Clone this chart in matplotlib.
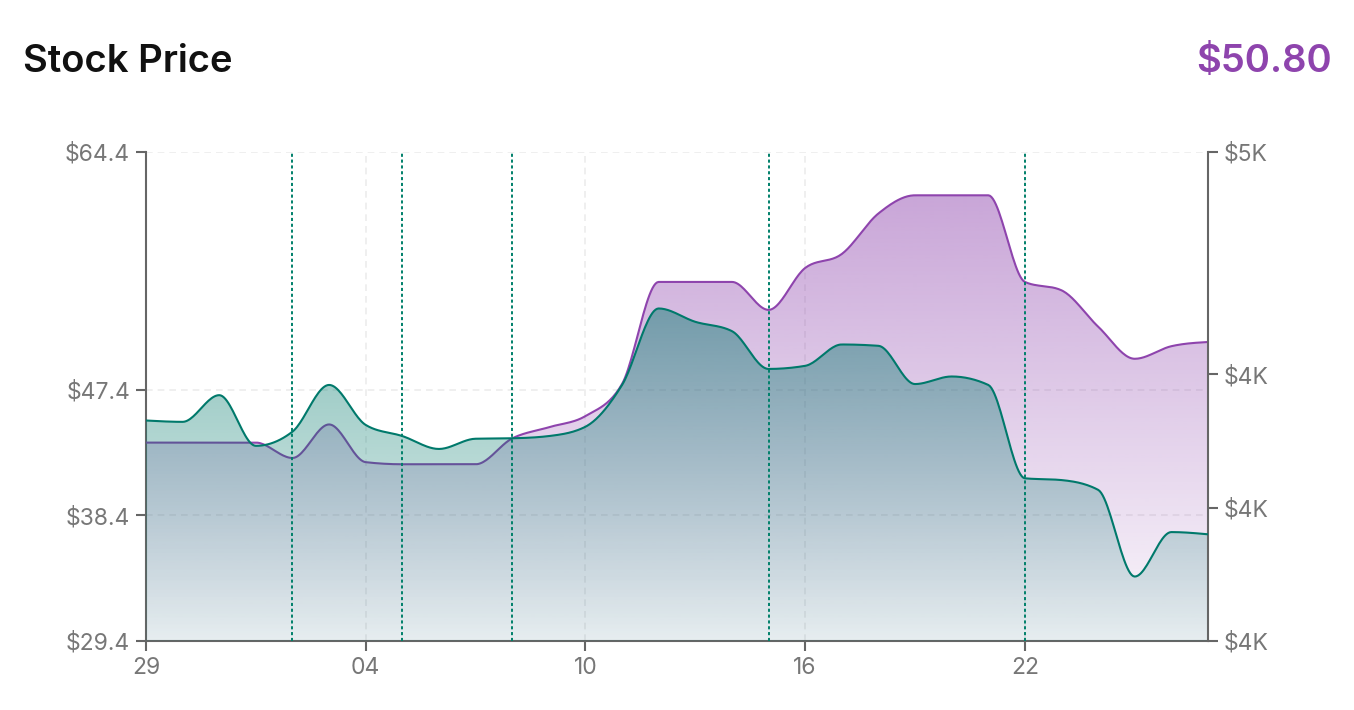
import numpy as np
import pandas as pd
import matplotlib
matplotlib.use("Agg")
import matplotlib.pyplot as plt
import matplotlib.dates as mdates
from matplotlib.ticker import FixedLocator, FuncFormatter
from matplotlib.colors import to_rgb

plt.rcParams["font.family"] = ["Inter", "DejaVu Sans"]

# -------------------------------------------------
# Data (daily values)
# -------------------------------------------------
dates = pd.date_range("2023-12-29", periods=30, freq="D")

price = [43.6, 43.6, 43.6, 43.6, 42.5, 44.9, 42.2, 42.05, 42.05, 42.05,
         43.9, 44.7, 45.5, 47.8, 55.1, 55.1, 55.1, 53.1, 56.1, 57.1,
         60.0, 61.3, 61.3, 61.3, 55.1, 54.5, 51.9, 49.6, 50.5, 50.8]

value = [4096, 4093, 4153, 4039, 4071, 4176, 4086, 4061, 4032, 4055,
         4056, 4061, 4082, 4176, 4348, 4318, 4297, 4212, 4219, 4267,
         4264, 4178, 4195, 4176, 3966, 3962, 3940, 3745, 3845, 3840]

event_dates = pd.to_datetime(["2024-01-02", "2024-01-05", "2024-01-08",
                              "2024-01-15", "2024-01-22"])

price_ticks = [29.4, 38.4, 47.4, 64.4]
value_ticks = [3600, 3900, 4200, 4700]
x_tick_dates = dates[::6]

PURPLE = "#8e44ad"
GREEN = "#00796b"
AXIS_GRAY = "#666666"
LABEL_GRAY = "#777777"


# -------------------------------------------------
# Monotone-x curve (same smoothing a d3 curveMonotoneX gives)
# -------------------------------------------------
def monotone_curve(x, y, steps=24):
    x = np.asarray(x, float)
    y = np.asarray(y, float)
    h = np.diff(x)
    s = np.diff(y) / h
    t = np.zeros_like(y)
    for i in range(1, len(y) - 1):
        p = (s[i - 1] * h[i] + s[i] * h[i - 1]) / (h[i - 1] + h[i])
        t[i] = (np.sign(s[i - 1]) + np.sign(s[i])) * min(abs(s[i - 1]), abs(s[i]), 0.5 * abs(p))
    t[0] = (3 * s[0] - t[1]) / 2 if len(y) > 2 else s[0]
    t[-1] = (3 * s[-1] - t[-2]) / 2 if len(y) > 2 else s[-1]
    xs, ys = [], []
    for i in range(len(h)):
        u = np.linspace(0, 1, steps, endpoint=False)
        h00 = 2 * u**3 - 3 * u**2 + 1
        h10 = u**3 - 2 * u**2 + u
        h01 = -2 * u**3 + 3 * u**2
        h11 = u**3 - u**2
        xs.append(x[i] + u * h[i])
        ys.append(h00 * y[i] + h10 * h[i] * t[i] + h01 * y[i + 1] + h11 * h[i] * t[i + 1])
    xs.append([x[-1]])
    ys.append([y[-1]])
    return np.concatenate(xs), np.concatenate(ys)


def gradient_fill(ax, xs, ys, base, top, color, a_bottom, a_top, x0, x1):
    poly = ax.fill_between(xs, ys, base, color="none", linewidth=0)
    rgb = to_rgb(color)
    n = 256
    img = np.zeros((n, 1, 4))
    img[:, 0, :3] = rgb
    img[:, 0, 3] = np.linspace(a_bottom, a_top, n)
    im = ax.imshow(img, extent=[x0, x1, base, top], origin="lower",
                   aspect="auto", interpolation="bilinear", zorder=1)
    im.set_clip_path(poly.get_paths()[0], transform=ax.transData)


# -------------------------------------------------
# Figure
# -------------------------------------------------
fig = plt.figure(figsize=(13.54, 7.10), dpi=100)
ax = fig.add_axes([146 / 1354, 69 / 710, 1062 / 1354, 489 / 710])
ax2 = ax.twinx()

xnum = mdates.date2num(dates)
x0, x1 = xnum[0], xnum[-1]

# price (left axis)
px, py = monotone_curve(xnum, price)
gradient_fill(ax, px, py, price_ticks[0], price_ticks[-1], PURPLE, 0.04, 0.52, x0, x1)
ax.plot(px, py, color=PURPLE, linewidth=1.5, zorder=3)

# value (right axis)
vx, vy = monotone_curve(xnum, value)
gradient_fill(ax2, vx, vy, value_ticks[0], value_ticks[-1], GREEN, 0.08, 0.64, x0, x1)
ax2.plot(vx, vy, color=GREEN, linewidth=1.5, zorder=3)

# event markers
for d in event_dates:
    ax2.axvline(mdates.date2num(d), color="#00806a", linewidth=1.4,
                linestyle=(0, (1.6, 1.4)), zorder=4)

# -------------------------------------------------
# Axes styling
# -------------------------------------------------
ax.set_xlim(x0, x1)
ax.set_ylim(price_ticks[0], price_ticks[-1])
ax2.set_ylim(value_ticks[0], value_ticks[-1])

ax.yaxis.set_major_locator(FixedLocator(price_ticks))
ax.yaxis.set_major_formatter(FuncFormatter(lambda v, _: f"${v:.1f}"))
ax2.yaxis.set_major_locator(FixedLocator(value_ticks))
ax2.yaxis.set_major_formatter(FuncFormatter(lambda v, _: f"${v / 1000:.0f}K"))
ax.xaxis.set_major_locator(FixedLocator(mdates.date2num(x_tick_dates)))
ax.xaxis.set_major_formatter(mdates.DateFormatter("%d"))

for a in (ax, ax2):
    a.spines["top"].set_visible(False)
    for side in ("left", "right", "bottom"):
        a.spines[side].set_color(AXIS_GRAY)
        a.spines[side].set_linewidth(1.5)
    a.tick_params(colors=AXIS_GRAY, labelcolor=LABEL_GRAY, labelsize=16.5,
                  length=7.5, width=1.5, pad=4)
ax2.spines["left"].set_visible(False)
ax2.spines["bottom"].set_visible(False)
ax.spines["right"].set_visible(False)

ax.set_axisbelow(True)
ax.grid(True, color="#ececec", linestyle=(0, (4, 3)), linewidth=1.2)
ax.patch.set_visible(False)
ax2.patch.set_visible(False)

# -------------------------------------------------
# Header
# -------------------------------------------------
fig.text(23 / 1354, 1 - 72 / 710, "Stock Price", fontsize=27.5, fontweight="semibold",
         color="#111111", ha="left", va="baseline")
fig.text(1332 / 1354, 1 - 72 / 710, f"${price[-1]:.2f}", fontsize=27.5, fontweight="semibold",
         color=PURPLE, ha="right", va="baseline")

fig.savefig("out.png", dpi=100)
